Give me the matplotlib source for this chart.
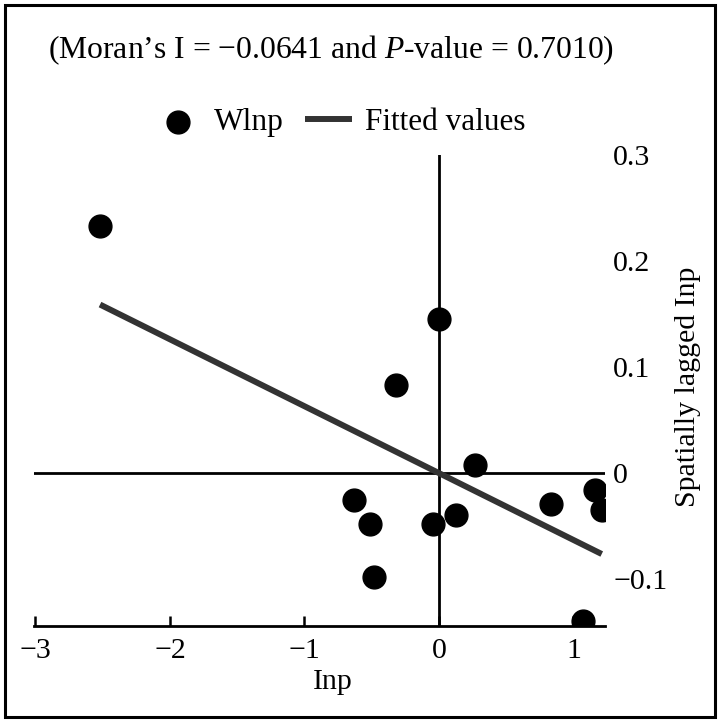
import numpy as np
import matplotlib.pyplot as plt
from matplotlib.patches import Rectangle

plt.rcParams['font.family'] = ['Liberation Serif', 'DejaVu Serif']
plt.rcParams['mathtext.fontset'] = 'custom'
plt.rcParams['mathtext.rm'] = 'Liberation Serif'
plt.rcParams['mathtext.it'] = 'Liberation Serif:italic'

# values
lnp = [-2.52, 0.00, -0.32, 0.27, -0.63, -0.51, -0.045, 0.13, 0.83, 1.16, 1.21, -0.48, 1.07]
wlnp = [0.233, 0.145, 0.083, 0.0075, -0.025, -0.048, -0.048, -0.040, -0.029, -0.016, -0.035, -0.098, -0.140]
xticks = [-3, -2, -1, 0, 1]
yticks = [-0.1, 0, 0.1, 0.2, 0.3]
ytick_labels = ['\u22120.1', '0', '0.1', '0.2', '0.3']

x = np.array(lnp)
y = np.array(wlnp)
slope, icpt = np.polyfit(x, y, 1)
xs = np.sort(x)
fitted = slope * xs + icpt

fig = plt.figure(figsize=(7.2, 7.22), dpi=100)
ax = fig.add_axes([0.0472, 0.133, 0.793, 0.652])

ax.axhline(0, color='black', lw=2.0, zorder=1)
ax.axvline(0, color='black', lw=2.0, zorder=1)
ax.plot(xs, fitted, color='#333333', lw=4.3, solid_capstyle='butt', zorder=2,
        label='Fitted values')
ax.scatter(x, y, s=270, color='black', zorder=3, label='Wlnp')

ax.set_xlim(-3.011, 1.234)
ax.set_ylim(-0.1443, 0.30)

for s in ['top', 'left', 'right']:
    ax.spines[s].set_visible(False)
ax.spines['bottom'].set_linewidth(2.0)

ax.set_xticks(xticks)
ax.set_xticklabels(['\u2212' + str(-v) if v < 0 else str(v) for v in xticks])
ax.tick_params(axis='x', direction='in', length=7, width=1.8, labelsize=21.5, pad=9)
ax.yaxis.tick_right()
ax.set_yticks(yticks)
ax.set_yticklabels(ytick_labels)
ax.tick_params(axis='y', length=0, labelsize=21.5, pad=6)

ax.set_xlabel('Inp', fontsize=21.5)
ax.xaxis.set_label_coords(0.524, -0.119)
ax.xaxis.label.set_va('center')
ax.yaxis.set_label_position('right')
ax.set_ylabel('Spatially lagged Inp', fontsize=21.5)
ax.yaxis.set_label_coords(1.145, 0.508)
ax.yaxis.label.set_va('center')

h, l = ax.get_legend_handles_labels()
fig.legend(h[::-1], l[::-1], loc='center', bbox_to_anchor=(0.472, 0.830), ncol=2,
           frameon=False, fontsize=22.5, handlelength=1.5, handletextpad=0.4,
           columnspacing=0.7, markerscale=1.0)

fig.text(331 / 720, 1 - 50 / 722,
         '(Moran\u2019s I = \u22120.0641 and $\\mathit{P}$-value = 0.7010)',
         ha='center', va='center', fontsize=22.8)

fig.add_artist(Rectangle((5 / 720, 5 / 722), 710 / 720, 712 / 722,
                         transform=fig.transFigure, fill=False, lw=2.2, color='black'))

fig.savefig('out.png', dpi=100)
